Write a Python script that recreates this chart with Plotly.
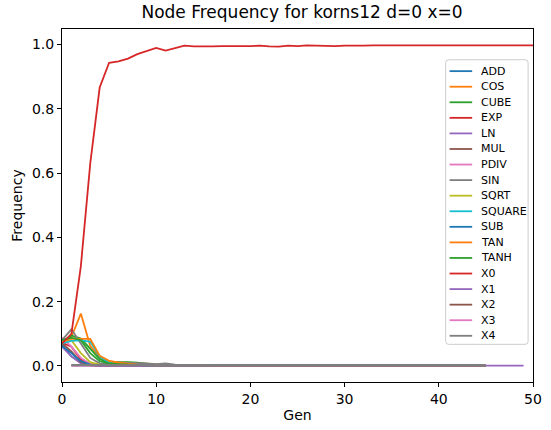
import plotly.graph_objects as go

NAMES = ["ADD", "COS", "CUBE", "EXP", "LN", "MUL", "PDIV", "SIN", "SQRT",
         "SQUARE", "SUB", "TAN", "TANH", "X0", "X1", "X2", "X3", "X4"]
COLORS = ["#1f77b4", "#ff7f0e", "#2ca02c", "#d62728", "#9467bd", "#8c564b",
          "#e377c2", "#7f7f7f", "#bcbd22", "#17becf", "#1f77b4", "#ff7f0e",
          "#2ca02c", "#d62728", "#9467bd", "#8c564b", "#e377c2", "#7f7f7f"]

ADD = [0.065, 0.030, 0.010, 0.003, 0.001, 0, 0, 0, 0, 0,
       0, 0, 0, 0, 0, 0, 0, 0, 0, 0,
       0, 0, 0, 0, 0, 0, 0, 0, 0, 0,
       0, 0, 0, 0, 0, 0, 0, 0, 0, 0,
       0, 0, 0, 0, 0, 0]
COS = [0.080, 0.090, 0.163, 0.062, 0.028, 0.014, 0.012, 0.010, 0.008, 0.006,
       0.004, 0.003, 0.003, 0.002, 0.002, 0.002, 0.001, 0.001, 0.001, 0.001,
       0.001, 0.001, 0.001, 0.001, 0, 0, 0, 0, 0, 0,
       0, 0, 0, 0, 0, 0, 0, 0, 0, 0,
       0, 0, 0, 0, 0, 0]
CUBE = [0.075, 0.095, 0.085, 0.055, 0.022, 0.010, 0.012, 0.012, 0.010, 0.006,
        0.003, 0.002, 0.002, 0.001, 0.001, 0.001, 0, 0, 0, 0,
        0, 0, 0, 0, 0, 0, 0, 0, 0, 0,
        0, 0, 0, 0, 0, 0, 0, 0, 0, 0,
        0, 0, 0, 0, 0, 0]
EXP = [0.072, 0.060, 0.020, 0.006, 0.002, 0.001, 0, 0, 0, 0,
       0, 0, 0, 0, 0, 0, 0, 0, 0, 0,
       0, 0, 0, 0, 0, 0, 0, 0, 0, 0,
       0, 0, 0, 0, 0, 0, 0, 0, 0, 0,
       0, 0, 0, 0, 0, 0]
LN = [0.060, 0.030, 0.008, 0.002, 0, 0, 0, 0, 0, 0,
      0, 0, 0, 0, 0, 0, 0, 0, 0, 0,
      0, 0, 0, 0, 0, 0, 0, 0, 0, 0,
      0, 0, 0, 0, 0, 0, 0, 0, 0, 0,
      0, 0, 0, 0, 0, 0]
MUL = [0.070, 0.045, 0.012, 0.004, 0.001, 0, 0, 0, 0, 0,
       0, 0, 0, 0, 0, 0, 0, 0, 0, 0,
       0, 0, 0, 0, 0, 0, 0, 0, 0, 0,
       0, 0, 0, 0, 0, 0, 0, 0, 0, 0,
       0, 0, 0, 0, 0, 0]
PDIV = [0.088, 0.060, 0.025, 0.006, 0.002, 0, 0, 0, 0, 0,
        0, 0, 0, 0, 0, 0, 0, 0, 0, 0,
        0, 0, 0, 0, 0, 0, 0, 0, 0, 0,
        0, 0, 0, 0, 0, 0, 0, 0, 0, 0,
        0, 0, 0, 0, 0, 0]
SIN = [0.080, 0.114, 0.070, 0.025, 0.008, 0.006, 0.010, 0.010, 0.010, 0.008,
       0.006, 0.008, 0.004, 0.003, 0.002, 0.002, 0.002, 0.002, 0.003, 0.002,
       0.002, 0.002, 0.002, 0.003, 0.002, 0.002, 0.002, 0.002, 0.002, 0.002,
       0.002, 0.002, 0.002, 0.002, 0.002, 0.002, 0.002, 0.002, 0.002, 0.002,
       0.002, 0.002, 0.002, 0.002, 0.002, 0.002]
SQRT = [0.075, 0.080, 0.040, 0.012, 0.004, 0.001, 0, 0, 0, 0,
        0, 0, 0, 0, 0, 0, 0, 0, 0, 0,
        0, 0, 0, 0, 0, 0, 0, 0, 0, 0,
        0, 0, 0, 0, 0, 0, 0, 0, 0, 0,
        0, 0, 0, 0, 0, 0]
SQUARE = [0.070, 0.078, 0.080, 0.075, 0.030, 0.010, 0.005, 0.003, 0.002, 0.001,
          0, 0, 0, 0, 0, 0, 0, 0, 0, 0,
          0, 0, 0, 0, 0, 0, 0, 0, 0, 0,
          0, 0, 0, 0, 0, 0, 0, 0, 0, 0,
          0, 0, 0, 0, 0, 0]
SUB = [0.062, 0.040, 0.015, 0.004, 0.001, 0, 0, 0, 0, 0,
       0, 0, 0, 0, 0, 0, 0, 0, 0, 0,
       0, 0, 0, 0, 0, 0, 0, 0, 0, 0,
       0, 0, 0, 0, 0, 0, 0, 0, 0, 0,
       0, 0, 0, 0, 0, 0]
TAN = [0.075, 0.085, 0.084, 0.084, 0.032, 0.016, 0.010, 0.006, 0.004, 0.003,
       0.002, 0.002, 0.001, 0.001, 0.001, 0, 0, 0, 0, 0,
       0, 0, 0, 0, 0, 0, 0, 0, 0, 0,
       0, 0, 0, 0, 0, 0, 0, 0, 0, 0,
       0, 0, 0, 0, 0, 0]
TANH = [0.080, 0.088, 0.080, 0.040, 0.015, 0.008, 0.006, 0.004, 0.002, 0.001,
        0, 0, 0, 0, 0, 0, 0, 0, 0, 0,
        0, 0, 0, 0, 0, 0, 0, 0, 0, 0,
        0, 0, 0, 0, 0, 0, 0, 0, 0, 0,
        0, 0, 0, 0, 0, 0]
X0 = [0.070, 0.100, 0.310, 0.630, 0.866, 0.943, 0.947, 0.956, 0.970, 0.980,
      0.989, 0.981, 0.988, 0.996, 0.994, 0.993, 0.994, 0.995, 0.994, 0.995,
      0.995, 0.996, 0.994, 0.993, 0.996, 0.995, 0.997, 0.996, 0.996, 0.995,
      0.996, 0.995, 0.996, 0.997, 0.997, 0.997, 0.996, 0.997, 0.997, 0.996,
      0.996, 0.997, 0.996, 0.997, 0.997, 0.996, 0.997, 0.997, 0.998, 0.996,
      0.997]
X1 = [None, 0.001, 0.001, 0.001, 0.001, 0.001, 0.001, 0.001, 0.001, 0.001,
      0.001, 0.001, 0.001, 0.001, 0.001, 0.001, 0.001, 0.001, 0.001, 0.001,
      0.001, 0.001, 0.001, 0.001, 0.001, 0.001, 0.001, 0.001, 0.001, 0.001,
      0.001, 0.001, 0.001, 0.001, 0.001, 0.001, 0.001, 0.001, 0.001, 0.001,
      0.001, 0.001, 0.001, 0.001, 0.001, 0.001, 0.001, 0.001, 0.001, 0.001]
X2 = [None, 0.002, 0.002, 0.002, 0.002, 0.002, 0.002, 0.002, 0.002, 0.002,
      0.002, 0.002, 0.002, 0.002, 0.002, 0.002, 0.002, 0.002, 0.002, 0.002,
      0.002, 0.002, 0.002, 0.002, 0.002, 0.002, 0.002, 0.002, 0.002, 0.002,
      0.002, 0.002, 0.002, 0.002, 0.002, 0.002, 0.002, 0.002, 0.002, 0.002,
      0.002, 0.002, 0.002, 0.002, 0.002, 0.002]
X3 = [None, 0.002, 0.002, 0.002, 0.002, 0.002, 0.002, 0.002, 0.002, 0.002,
      0.002, 0.002, 0.002, 0.002, 0.002, 0.002, 0.002, 0.002, 0.002, 0.002,
      0.002, 0.002, 0.002, 0.002, 0.002, 0.002, 0.002, 0.002, 0.002, 0.002,
      0.002, 0.002, 0.002, 0.002, 0.002, 0.002, 0.002, 0.002, 0.002, 0.002,
      0.002, 0.002, 0.002, 0.002, 0.002, 0.002]
X4 = [None, 0.003, 0.003, 0.003, 0.003, 0.003, 0.003, 0.003, 0.003, 0.003,
      0.003, 0.003, 0.003, 0.003, 0.003, 0.003, 0.003, 0.003, 0.004, 0.003,
      0.003, 0.003, 0.003, 0.004, 0.003, 0.003, 0.003, 0.003, 0.003, 0.003,
      0.003, 0.003, 0.003, 0.003, 0.003, 0.003, 0.003, 0.003, 0.003, 0.003,
      0.003, 0.003, 0.003, 0.003, 0.003, 0.003]

SERIES = [ADD, COS, CUBE, EXP, LN, MUL, PDIV, SIN, SQRT, SQUARE, SUB, TAN,
          TANH, X0, X1, X2, X3, X4]

X_TICKS = [0, 10, 20, 30, 40, 50]
Y_TICKS = [0.0, 0.2, 0.4, 0.6, 0.8, 1.0]
FONT = "DejaVu Sans"

W, H = 551, 430
ML, MR, MT, MB = 62, 9, 29, 45
PW, PH = W - ML - MR, H - MT - MB


def px(xp):
    return (xp - ML) / PW


def py(yp):
    return (H - MB - yp) / PH


fig = go.Figure()
for name, color, vals in zip(NAMES, COLORS, SERIES):
    fig.add_trace(go.Scatter(
        x=list(range(len(vals))), y=vals, name=name, mode="lines",
        line=dict(color=color, width=1.8), connectgaps=False, showlegend=False))

# matplotlib-like legend box (center right)
LX0, LX1, LY0, LY1, R = 453, 537, 60, 347, 3
path = (f"M {px(LX0 + R)},{py(LY0)} L {px(LX1 - R)},{py(LY0)} "
        f"Q {px(LX1)},{py(LY0)} {px(LX1)},{py(LY0 + R)} "
        f"L {px(LX1)},{py(LY1 - R)} Q {px(LX1)},{py(LY1)} {px(LX1 - R)},{py(LY1)} "
        f"L {px(LX0 + R)},{py(LY1)} Q {px(LX0)},{py(LY1)} {px(LX0)},{py(LY1 - R)} "
        f"L {px(LX0)},{py(LY0 + R)} Q {px(LX0)},{py(LY0)} {px(LX0 + R)},{py(LY0)} Z")
shapes = [dict(type="path", xref="paper", yref="paper", path=path,
               fillcolor="rgba(255,255,255,0.8)", line=dict(color="#cccccc", width=1),
               layer="above")]
annotations = []
Y_FIRST, STEP = 71.5, 15.7
for i, (name, color) in enumerate(zip(NAMES, COLORS)):
    yy = Y_FIRST + STEP * i
    shapes.append(dict(type="line", xref="paper", yref="paper",
                       x0=px(457), x1=px(480), y0=py(yy), y1=py(yy),
                       line=dict(color=color, width=1.8), layer="above"))
    annotations.append(dict(xref="paper", yref="paper", x=px(487), y=py(yy),
                            xanchor="left", yanchor="middle", showarrow=False,
                            text=name, font=dict(family=FONT, size=11, color="black")))

axis_common = dict(showline=True, mirror=True, linecolor="black", linewidth=1,
                   ticks="outside", ticklen=4, tickcolor="black", showgrid=False,
                   zeroline=False, tickfont=dict(family=FONT, size=14, color="black"))

fig.update_layout(
    width=W, height=H,
    margin=dict(l=ML, r=MR, t=MT, b=MB),
    paper_bgcolor="white", plot_bgcolor="white",
    title=dict(text="Node Frequency for korns12 d=0 x=0", x=(ML + PW / 2) / W,
               xanchor="center", y=0.985, yanchor="top",
               font=dict(family=FONT, size=17, color="black")),
    xaxis=dict(range=[0, 50], tickvals=X_TICKS,
               title=dict(text="Gen", font=dict(family=FONT, size=14, color="black"), standoff=4),
               **axis_common),
    yaxis=dict(range=[-0.0499, 1.048], tickvals=Y_TICKS, tickformat=".1f",
               title=dict(text="Frequency", font=dict(family=FONT, size=14, color="black"), standoff=6),
               **axis_common),
    shapes=shapes,
    annotations=annotations,
    showlegend=False,
)

fig.write_html("out.html")
